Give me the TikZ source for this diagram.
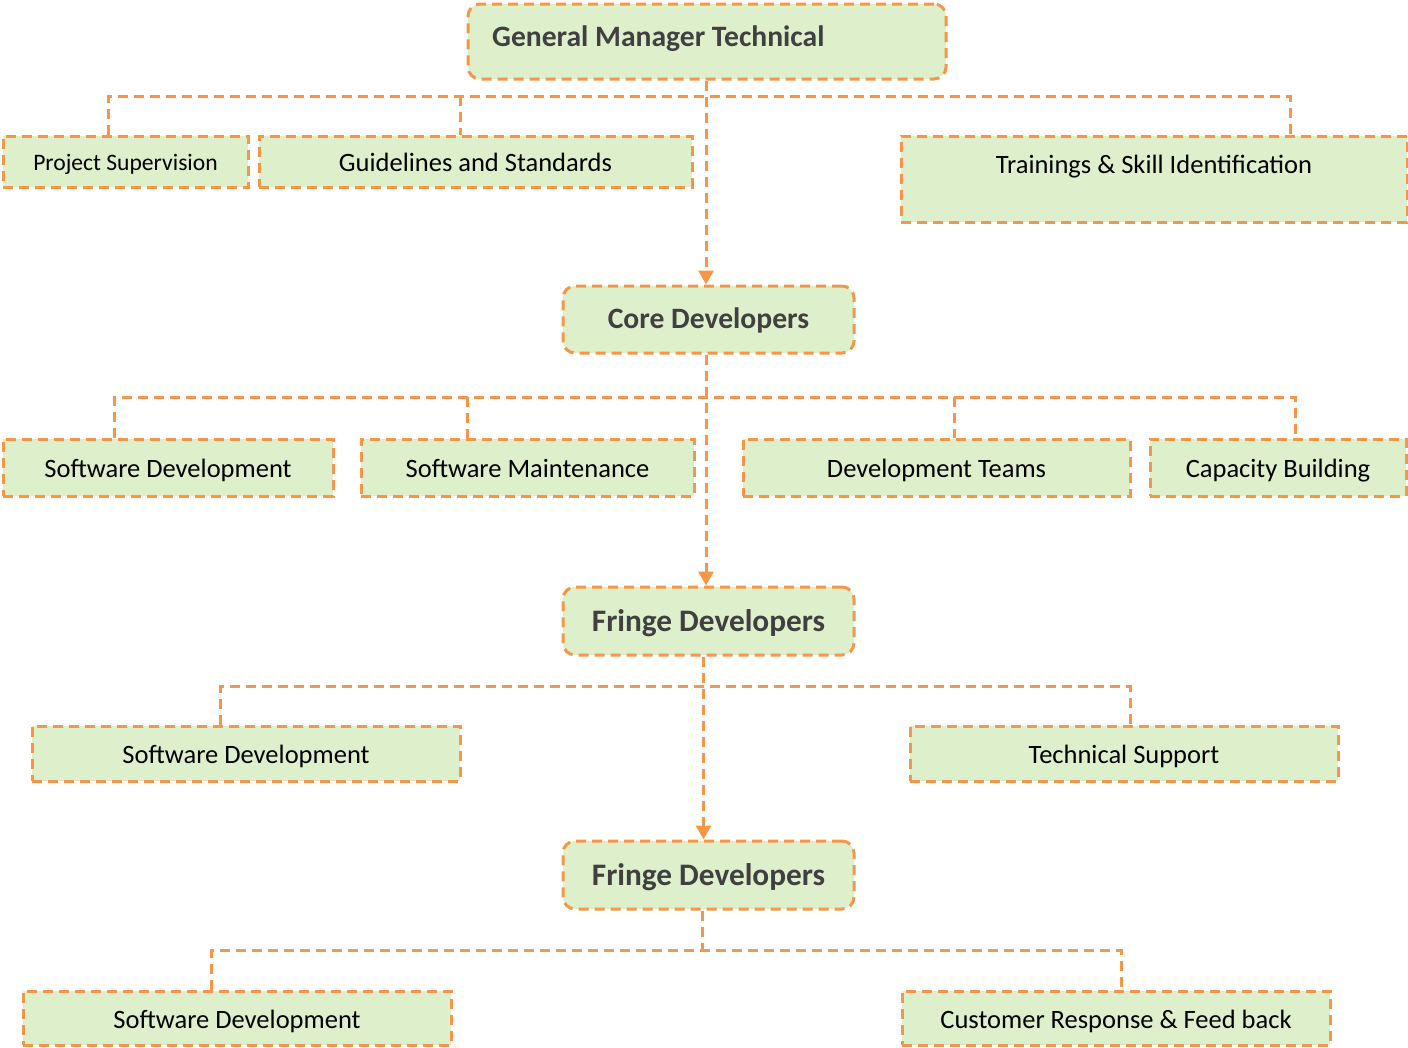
\documentclass[tikz,border=0pt]{standalone}
\usepackage{fontspec}
\setmainfont{Carlito}
\usetikzlibrary{arrows.meta}
\definecolor{org}{HTML}{F79646}
\definecolor{lg}{HTML}{DEEFCC}
\definecolor{dk}{HTML}{404040}
\tikzset{
  box/.style={draw=org, fill=lg, line width=3pt, dash pattern=on 10pt off 6pt, inner sep=0pt,
    text=black, font=\fontsize{26.5}{30}\selectfont, text height=20pt, text depth=0pt},
  rbox/.style={box, rounded corners=12pt, text=dk},
  conn/.style={draw=org, line width=3pt, dash pattern=on 10pt off 6pt},
  arr/.style={conn, -{Triangle[length=14pt,width=15pt]}},
  bfont/.style={font=\bfseries\fontsize{29.6}{33}\selectfont, text height=18pt},
  lfont/.style={font=\bfseries\fontsize{31.3}{35}\selectfont, text height=20pt},
}
\begin{document}
\begin{tikzpicture}[x=1pt,y=-1pt]
\useasboundingbox (0,0) rectangle (1408,1047);
% level 0
\node[rbox, minimum width=478pt, minimum height=75pt] (gm) at (707,41.5) {};
\node[anchor=base west, inner sep=0pt, text=dk, bfont] (gmt) at (492,46) {General Manager Technical};
% level 1
\node[box, minimum width=245pt, minimum height=51pt, font=\fontsize{23.6}{27}\selectfont, text height=18pt] (ps) at (125.5,161.5) {Project Supervision};
\node[box, minimum width=433pt, minimum height=51pt] (gs) at (475.5,161.5) {Guidelines and Standards};
\node[box, minimum width=506pt, minimum height=86pt] (tr) at (1154,179) {};
\node[anchor=base, inner sep=0pt, font=\fontsize{26.5}{30}\selectfont] (trt) at (1154,173) {Trainings \& Skill Identification};
% core
\node[rbox, minimum width=291pt, minimum height=67pt, bfont] (core) at (708.5,319.5) {Core Developers};
\node[box, minimum width=330pt, minimum height=57pt] (sd1) at (168,467.5) {Software Development};
\node[box, minimum width=333pt, minimum height=57pt] (sm) at (527.5,467.5) {Software Maintenance};
\node[box, minimum width=387pt, minimum height=57pt] (dt) at (936.5,467.5) {Development Teams};
\node[box, minimum width=256pt, minimum height=57pt] (cb) at (1278,467.5) {Capacity Building};
% fringe 1
\node[rbox, minimum width=291pt, minimum height=68pt, lfont] (fr1) at (708.5,621) {Fringe Developers};
\node[box, minimum width=428pt, minimum height=55pt] (sd2) at (246,753.5) {Software Development};
\node[box, minimum width=428pt, minimum height=55pt] (ts) at (1124,753.5) {Technical Support};
% fringe 2
\node[rbox, minimum width=291pt, minimum height=68pt, lfont] (fr2) at (708.5,875) {Fringe Developers};
\node[box, minimum width=428pt, minimum height=54pt] (sd3) at (237,1018) {Software Development};
\node[box, minimum width=428pt, minimum height=54pt] (crf) at (1116,1018) {Customer Response \& Feed back};
% connectors level 0
\coordinate (a1) at (108,96);
\coordinate (a2) at (460,96);
\coordinate (a3) at (1290,96);
\draw[conn] (a1 |- ps.north) -- (a1) -- (a3) -- (a3 |- tr.north);
\draw[conn] (a2) -- (a2 |- gs.north);
\draw[arr] ([xshift=-1pt]gm.south) -- ([xshift=-1pt]gm.south |- core.north);
% connectors core
\coordinate (b1) at (114,397);
\coordinate (b2) at (467,397);
\coordinate (b3) at (954,397);
\coordinate (b4) at (1295,397);
\draw[conn] (b1 |- sd1.north) -- (b1) -- (b4) -- (b4 |- cb.north);
\draw[conn] (b2) -- (b2 |- sm.north);
\draw[conn] (b3) -- (b3 |- dt.north);
\draw[arr] ([xshift=-2.5pt]core.south) -- ([xshift=-2.5pt]core.south |- fr1.north);
% connectors fringe 1
\coordinate (c1) at (220,686);
\coordinate (c2) at (1130,686);
\draw[conn] (c1 |- sd2.north) -- (c1) -- (c2) -- (c2 |- ts.north);
\draw[arr] ([xshift=-5pt]fr1.south) -- ([xshift=-5pt]fr1.south |- fr2.north);
% connectors fringe 2
\coordinate (d0) at (702,950);
\coordinate (d1) at (211,950);
\coordinate (d2) at (1121,950);
\draw[conn] (d1 |- sd3.north) -- (d1) -- (d2) -- (d2 |- crf.north);
\draw[conn] (fr2.south -| d0) -- (d0);
\end{tikzpicture}
\end{document}
